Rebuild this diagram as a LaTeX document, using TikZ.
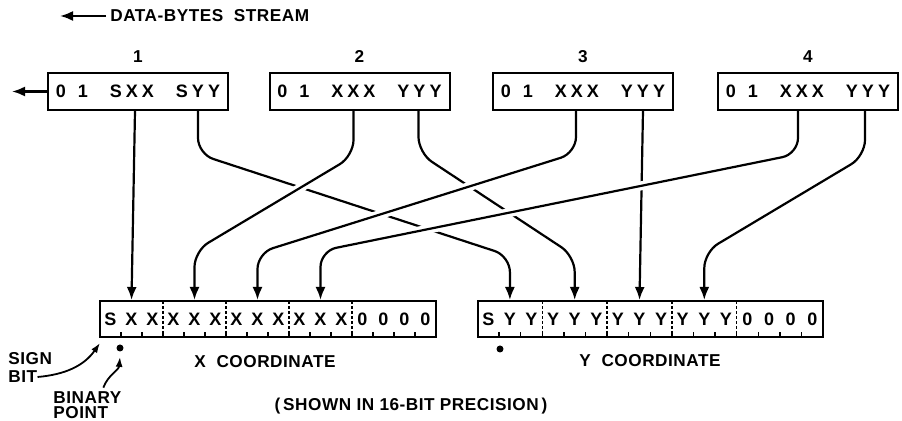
\documentclass[tikz,border=0pt]{standalone}
\usepackage{fontspec}
\setmainfont{Liberation Sans}[LetterSpace=3]
\usetikzlibrary{arrows.meta,positioning,backgrounds}
\tikzset{
  bytebox/.style={
    draw,
    line width=1pt,
    minimum width=90pt,
    minimum height=18.5pt,
    inner sep=0pt,
    font=\bfseries\fontsize{9}{10}\selectfont
  },
  regbox/.style={draw,line width=1pt,minimum height=18pt,inner sep=0pt},
  bitchar/.style={inner sep=0pt,font=\bfseries\fontsize{9}{10}\selectfont},
  lbl/.style={inner sep=0pt,font=\bfseries\fontsize{8.6}{10}\selectfont},
  wire/.style={-{Latex[length=6.5pt,width=5pt]},line width=1.1pt,rounded corners=8pt},
  overwire/.style={wire,preaction={draw=white,line width=4.5pt,-}},
  pointer/.style={-{Latex[length=5pt,width=3.5pt]},line width=0.9pt},
  tickmark/.style={line width=0.7pt},
  fieldsep/.style={line width=0.7pt,dash pattern=on 1.5pt off 1pt},
  bindot/.style={circle,fill,inner sep=0pt,minimum size=3.5pt}
}
\begin{document}
\begin{tikzpicture}[x=0.5pt,y=-0.5pt]
\useasboundingbox (0,0) rectangle (902,421);
% stream of data bytes
\node[lbl,anchor=west] (stream) at (110,16) {DATA-BYTES\ \ STREAM};
\coordinate (streamend) at (60,16);
\node[bytebox] (b1) at (138,91.5) {0\hspace{6pt}1\hspace{11pt}S\hspace{2pt}X\hspace{2pt}X\hspace{11pt}S\hspace{2pt}Y\hspace{2pt}Y};
\node[bytebox] (b2) at (359.5,91.5) {0\hspace{6pt}1\hspace{11pt}X\hspace{2pt}X\hspace{2pt}X\hspace{11pt}Y\hspace{2pt}Y\hspace{2pt}Y};
\node[bytebox] (b3) at (583,91.5) {0\hspace{6pt}1\hspace{11pt}X\hspace{2pt}X\hspace{2pt}X\hspace{11pt}Y\hspace{2pt}Y\hspace{2pt}Y};
\node[bytebox] (b4) at (808,91.5) {0\hspace{6pt}1\hspace{11pt}X\hspace{2pt}X\hspace{2pt}X\hspace{11pt}Y\hspace{2pt}Y\hspace{2pt}Y};
\foreach \n in {1,...,4} \node[lbl,above=4.5pt of b\n] (num\n) {\n};
\coordinate (outend) at (12,91.5);
% coordinate registers
\node[regbox,minimum width=168pt] (xreg) at (268,319) {};
\node[regbox,minimum width=172.8pt] (yreg) at (650.3,319) {};
\foreach \c [count=\i from 0] in {S,X,X,X,X,X,X,X,X,X,X,X,0,0,0,0}
  \node[bitchar] (xb\i) at ({100+(\i+0.5)*21},319) {\c};
\foreach \c [count=\i from 0] in {S,Y,Y,Y,Y,Y,Y,Y,Y,Y,Y,Y,0,0,0,0}
  \node[bitchar] (yb\i) at ({477.5+(\i+0.5)*21.6},319) {\c};
\foreach \k in {1,...,15} {
  \draw[tickmark] ({100+\k*21},337) -- ++(0,-5);
  \draw[tickmark] ({477.5+\k*21.6},337) -- ++(0,-5);
}
\foreach \k in {3,6,9,12} {
  \draw[fieldsep] ({100+\k*21},301) -- ({100+\k*21},337);
  \draw[fieldsep] ({477.5+\k*21.6},301) -- ({477.5+\k*21.6},337);
}
\node[bindot] (xpt) at (120,348) {};
\node[bindot] (ypt) at (500,349) {};
\node[lbl] (xcap) at (265,362) {X\ \ COORDINATE};
\node[lbl] (ycap) at (650,361) {Y\ \ COORDINATE};
\node[lbl] (prec) at (411,406) {(\,SHOWN IN 16-BIT PRECISION\,)};
\node[lbl,anchor=west] (signlbl) at (8,359) {SIGN};
\node[lbl,anchor=west] (bitlbl) at (8,377) {BIT};
\node[lbl,anchor=west] (binlbl) at (53,398) {BINARY};
\node[lbl,anchor=west] (pointlbl) at (53,413) {POINT};
% routing of the bit groups
\begin{scope}[on background layer]
\draw[wire] ([xshift=-2pt]stream.west) -- (streamend);
\draw[wire] (b1.west) -- (outend);
\draw[wire] ([xshift=-1.5pt]b1.south) -- (xb1 |- xreg.north);
\draw[wire] ([xshift=30pt]b1.south) -- (198,154) -- (yb1 |- 0,256) -- (yb1 |- yreg.north);
\draw[wire] ([xshift=29.5pt]b2.south) -- (418.5,153) -- (yb4 |- 0,256) -- (yb4 |- yreg.north);
\draw[wire] ([xshift=30pt]b3.south) -- (yb7 |- yreg.north);
\draw[overwire] ([xshift=-3pt]b2.south) -- (353.5,156) -- (xb4 |- 0,251) -- (xb4 |- xreg.north);
\draw[overwire] ([xshift=-3.5pt]b3.south) -- (576,153) -- (xb7 |- 0,253) -- (xb7 |- xreg.north);
\draw[overwire] ([xshift=-5pt]b4.south) -- (798,154) -- (xb10 |- 0,251) -- (xb10 |- xreg.north);
\draw[wire] ([xshift=28.5pt]b4.south) -- (865,156) -- (yb10 |- 0,252) -- (yb10 |- yreg.north);
\draw[pointer] (bitlbl.east) to[out=5,in=235] ([shift={(0.5pt,-2.5pt)}]xreg.south west);
\draw[pointer] ([shift={(8pt,2pt)}]binlbl.north) to[out=70,in=265] ([yshift=-2.5pt]xpt.south);
\end{scope}
\end{tikzpicture}
\end{document}
